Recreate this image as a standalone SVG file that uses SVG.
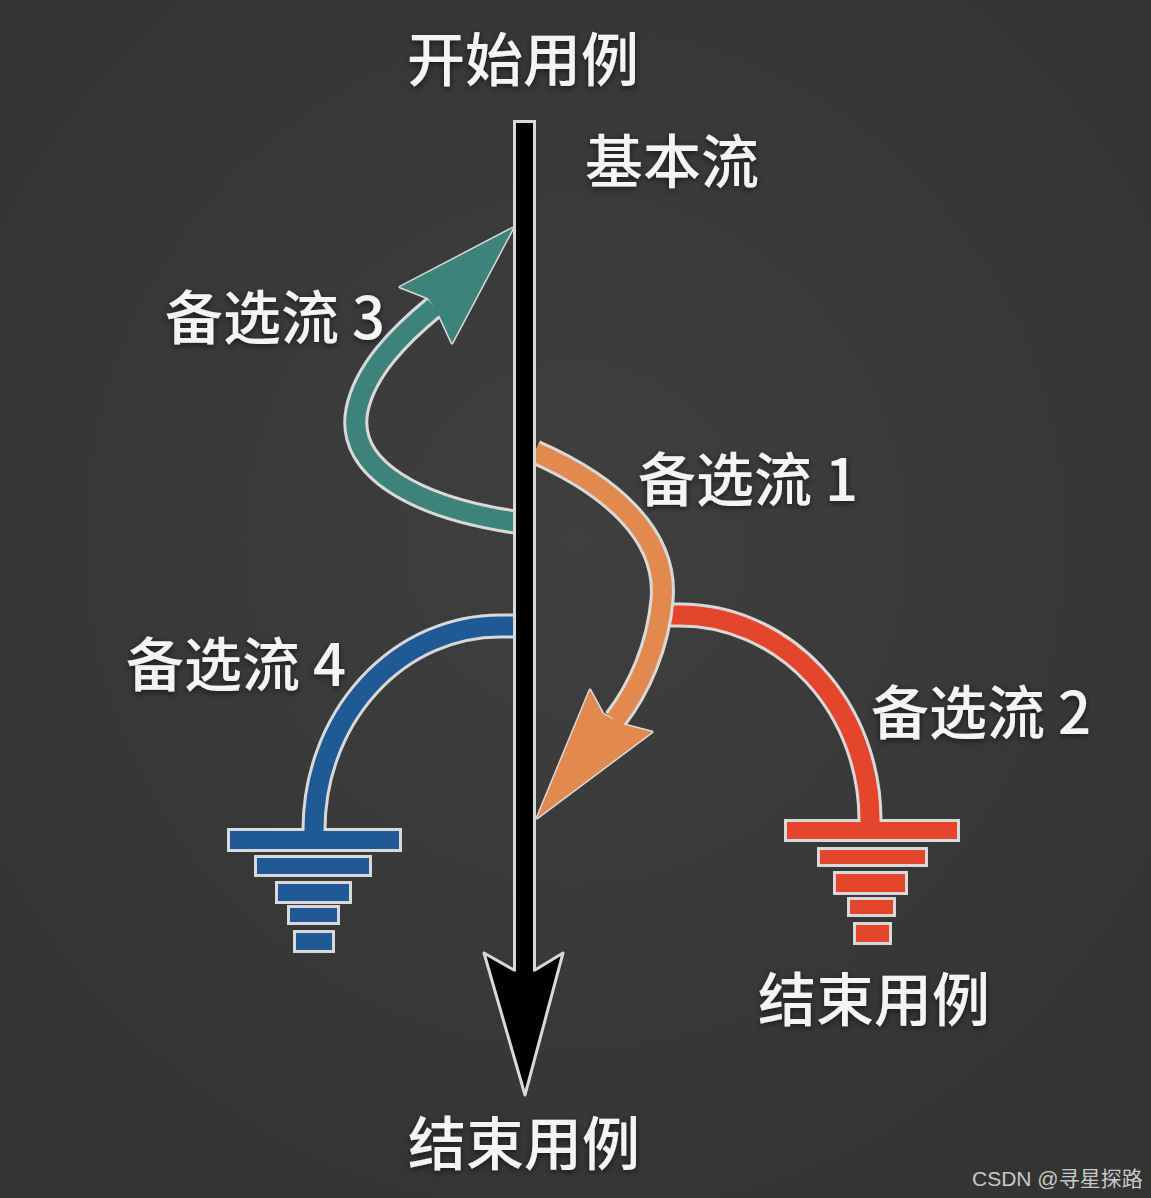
<svg xmlns="http://www.w3.org/2000/svg" width="1151" height="1198" viewBox="0 0 1151 1198">
<defs>
  <radialGradient id="bg" cx="50%" cy="45%" r="70%">
    <stop offset="0" stop-color="#3f3f3d"/>
    <stop offset="1" stop-color="#333331"/>
  </radialGradient>
  <filter id="sh" x="-20%" y="-30%" width="140%" height="160%">
    <feDropShadow dx="0" dy="2" stdDeviation="3" flood-color="#000" flood-opacity="0.6"/>
  </filter>
  <style>
    .lbl { font-family: "Noto Sans CJK SC", "Noto Sans", sans-serif; font-size: 58px; font-weight: 500; fill: #f4f4f4; filter: url(#sh); }
    .wm { font-family: "Liberation Sans", "Noto Sans CJK SC", sans-serif; font-size: 21px; fill: #c9c9c9; }
    .ol { fill: none; stroke: #d9d9d9; stroke-width: 25; }
    .hd { stroke: #d9d9d9; stroke-width: 3; stroke-linejoin: round; }
    .bar { stroke: #d9d9d9; stroke-width: 3; }
  </style>
</defs>
<rect width="1151" height="1198" fill="url(#bg)"/>

<g id="connectors">
  <!-- alt flow 3 (teal) -->
  <g id="flow3">
    <polygon class="hd" fill="#3d837a" points="513,228 400,287 428,298 440,317 452,343"/>
    <path class="ol" d="M 515 522 C 420 508, 345 470, 357 410 C 365 370, 400 335, 434 307"/>
    <path fill="none" stroke="#3d837a" stroke-width="19" d="M 515 522 C 420 508, 345 470, 357 410 C 365 370, 400 335, 434 307"/>
    <polygon fill="#3d837a" points="513,228 400,287 428,298 440,317 452,343"/>
  </g>
  <!-- alt flow 2 (red) -->
  <g id="flow2">
    <rect class="bar" fill="#e4452b" x="785.5" y="820.5" width="173" height="20"/>
    <rect class="bar" fill="#e4452b" x="818.5" y="848.5" width="108" height="17"/>
    <rect class="bar" fill="#e4452b" x="834.5" y="872.5" width="72" height="21"/>
    <rect class="bar" fill="#e4452b" x="848.5" y="898.5" width="46" height="17"/>
    <rect class="bar" fill="#e4452b" x="854.5" y="923.5" width="36" height="20"/>
    <path class="ol" d="M 662 615 L 680 615 A 190 205 0 0 1 870 820"/>
    <path fill="none" stroke="#e4452b" stroke-width="19" d="M 660 615 L 680 615 A 190 205 0 0 1 870 820 L 870 824"/>
  </g>
  <!-- alt flow 1 (orange) -->
  <g id="flow1">
    <polygon class="hd" fill="#e2894f" points="537,818 590,690 603,714 625,725 652,732"/>
    <path class="ol" d="M 535 452 C 610 485, 668 535, 662 600 C 658 645, 640 688, 615 720"/>
    <path fill="none" stroke="#e2894f" stroke-width="19" d="M 535 452 C 610 485, 668 535, 662 600 C 658 645, 640 688, 615 720"/>
    <polygon fill="#e2894f" points="537,818 590,690 603,714 625,725 652,732"/>
  </g>
  <!-- alt flow 4 (blue) -->
  <g id="flow4">
    <rect class="bar" fill="#1f5a97" x="228.5" y="829.5" width="172" height="21"/>
    <rect class="bar" fill="#1f5a97" x="255.5" y="856.5" width="115" height="19"/>
    <rect class="bar" fill="#1f5a97" x="276.5" y="882.5" width="74" height="20"/>
    <rect class="bar" fill="#1f5a97" x="288.5" y="906.5" width="50" height="17"/>
    <rect class="bar" fill="#1f5a97" x="294.5" y="931.5" width="39" height="20"/>
    <path class="ol" d="M 515 626 L 500 626 A 186 204 0 0 0 314 830"/>
    <path fill="none" stroke="#1f5a97" stroke-width="19" d="M 518 626 L 500 626 A 186 204 0 0 0 314 830 L 314 834"/>
  </g>
  <!-- basic flow (main black arrow) -->
  <g id="basic-flow">
    <rect x="514.5" y="121.5" width="20" height="855" fill="#000" stroke="#d9d9d9" stroke-width="3"/>
    <polygon class="hd" fill="#000" points="484,953 514,970 535,970 563,953 525,1095"/>
    <rect x="516" y="123" width="17" height="860" fill="#000"/>
  </g>
</g>

<g id="labels">
  <g id="start"><text class="lbl" x="523" y="81" text-anchor="middle">开始用例</text></g>
  <g id="basic"><text class="lbl" x="585" y="183">基本流</text></g>
  <g id="alt3"><text class="lbl" x="165" y="339">备选流 3</text></g>
  <g id="alt1"><text class="lbl" x="638" y="501">备选流 1</text></g>
  <g id="alt4"><text class="lbl" x="126" y="686">备选流 4</text></g>
  <g id="alt2"><text class="lbl" x="871" y="734">备选流 2</text></g>
  <g id="end2"><text class="lbl" x="758" y="1021">结束用例</text></g>
  <g id="end-main"><text class="lbl" x="408" y="1165">结束用例</text></g>
</g>
<text class="wm" x="972" y="1186">CSDN @寻星探路</text>
</svg>
